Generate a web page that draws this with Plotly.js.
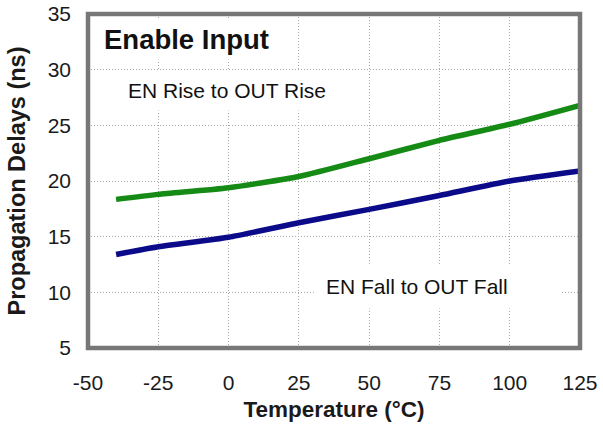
<!DOCTYPE html>
<html>
<head>
<meta charset="utf-8">
<script src="https://cdn.plot.ly/plotly-3.0.1.min.js"></script>
<style>html,body{margin:0;padding:0;background:#fff;}#chart{width:603px;height:430px;}</style>
</head>
<body>
<div id="chart"></div>
<script>
var temperature = [-40, -25, 0, 25, 50, 75, 100, 125];
var riseDelay = [18.35, 18.8, 19.4, 20.4, 22.0, 23.65, 25.1, 26.8];
var fallDelay = [13.4, 14.1, 14.95, 16.25, 17.45, 18.7, 20.0, 20.9];
var xTicks = [-50, -25, 0, 25, 50, 75, 100, 125];
var yTicks = [5, 10, 15, 20, 25, 30, 35];

var FONT = 'Liberation Sans, Arial, Helvetica, sans-serif';

var traces = [
  {x: temperature, y: riseDelay, mode: 'lines', line: {color: '#158b15', width: 5.5, shape: 'spline', smoothing: 0.6}, name: 'EN Rise to OUT Rise', hoverinfo: 'x+y'},
  {x: temperature, y: fallDelay, mode: 'lines', line: {color: '#0b0b8a', width: 5.5, shape: 'spline', smoothing: 0.6}, name: 'EN Fall to OUT Fall', hoverinfo: 'x+y'}
];

var layout = {
  width: 603, height: 430,
  margin: {l: 88, r: 23, t: 14, b: 82},
  paper_bgcolor: '#fff', plot_bgcolor: '#fff',
  showlegend: false,
  font: {family: FONT, color: '#1a1a1a'},
  xaxis: {
    range: [-50, 125], tickvals: xTicks, ticktext: xTicks.map(String),
    showgrid: true, gridcolor: '#a8a8a8', griddash: '1px,2px', gridwidth: 1,
    zeroline: false, showline: false, ticks: '',
    ticklabelstandoff: 20,
    tickfont: {family: FONT, size: 21, color: '#1a1a1a'},
    title: {text: '<b>Temperature (°C)</b>', font: {family: FONT, size: 22.5, color: '#1a1a1a'}, standoff: 8}
  },
  yaxis: {
    range: [5, 35], tickvals: yTicks, ticktext: yTicks.map(String),
    showgrid: true, gridcolor: '#a8a8a8', griddash: '1px,2px', gridwidth: 1,
    zeroline: false, showline: false, ticks: '',
    ticklabelstandoff: 16,
    tickfont: {family: FONT, size: 21, color: '#1a1a1a'},
    title: {text: '<b>Propagation Delays (ns)</b>', font: {family: FONT, size: 23.5, color: '#1a1a1a'}, standoff: 15}
  },
  shapes: [
    {type: 'rect', xref: 'paper', yref: 'paper', x0: 0, x1: 1, y0: 0, y1: 1, line: {color: '#777777', width: 4.5}, layer: 'above'}
  ],
  annotations: [
    {xref: 'x', yref: 'y', x: -46, y: 32.7, xanchor: 'left', yanchor: 'middle', showarrow: false,
     text: '<b>Enable Input</b>', font: {family: FONT, size: 27.5, color: '#111'}, bgcolor: '#fff', borderpad: 4},
    {xref: 'x', yref: 'y', x: -39, y: 28.15, xanchor: 'left', yanchor: 'middle', showarrow: false,
     text: 'EN Rise to OUT Rise', font: {family: FONT, size: 21, color: '#111'}, bgcolor: '#fff', borderpad: 8},
    {xref: 'x', yref: 'y', x: 30.8, y: 10.55, xanchor: 'left', yanchor: 'middle', showarrow: false, align: 'left',
     text: 'EN Fall to OUT Fall', font: {family: FONT, size: 21, color: '#111'}, bgcolor: '#fff', borderpad: 10, width: 225}
  ]
};

Plotly.newPlot('chart', traces, layout, {displayModeBar: false, staticPlot: true});
</script>
</body>
</html>
